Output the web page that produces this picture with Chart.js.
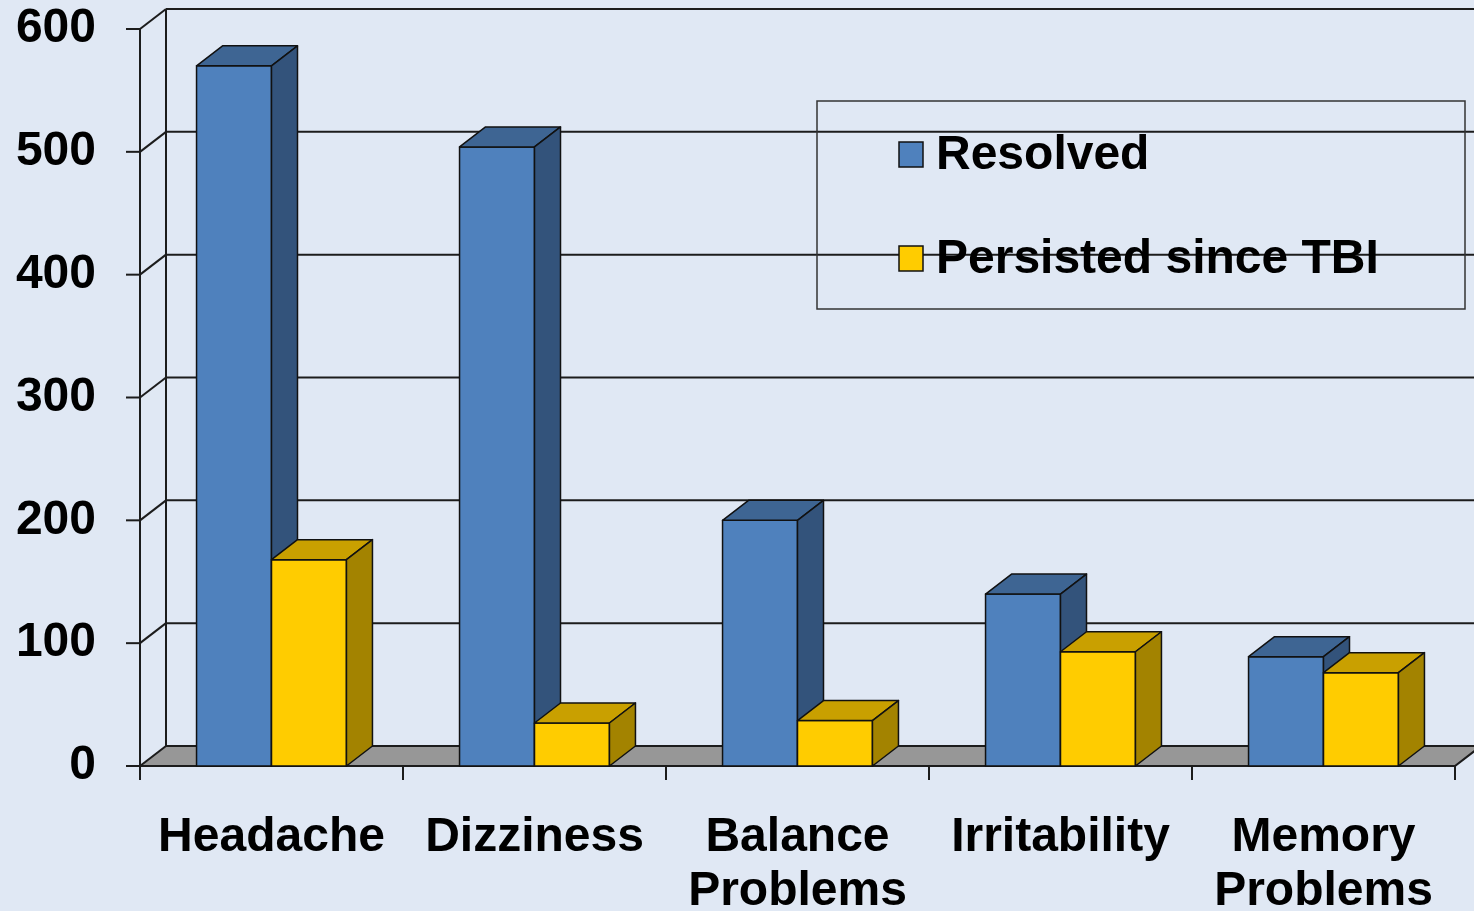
<!DOCTYPE html>
<html>
<head>
<meta charset="utf-8">
<script src="https://cdn.jsdelivr.net/npm/chart.js@4/dist/chart.umd.min.js"></script>
<style>
html,body{margin:0;padding:0;background:#E0E8F4;}
#wrap{width:1474px;height:911px;position:relative;}
</style>
</head>
<body>
<div id="wrap"><canvas id="c" width="1474" height="911"></canvas></div>
<script>
const categories = [["Headache"], ["Dizziness"], ["Balance", "Problems"], ["Irritability"], ["Memory", "Problems"]];
const seriesNames = ["Resolved", "Persisted since TBI"];
const resolved = [570, 504, 200, 140, 89];
const persisted = [168, 35, 37, 93, 76];
const yMin = 0, yMax = 600, yStep = 100;

const FONT = '"Liberation Sans", Arial, sans-serif';
const DX = 26, DY = -20;
const faceColors = [
  {front: '#4F81BD', top: '#3E6593', side: '#33537B'},
  {front: '#FFCC00', top: '#C9A000', side: '#A38300'}
];
const LINE = '#1C1C1C';

const threeD = {
  id: 'threeD',
  beforeDraw(chart) {
    const ctx = chart.ctx;
    ctx.save();
    ctx.fillStyle = '#E0E8F4';
    ctx.fillRect(0, 0, chart.width, chart.height);
    ctx.restore();
  },
  beforeDatasetsDraw(chart) {
    const ctx = chart.ctx;
    const xs = chart.scales.x, ys = chart.scales.y;
    const L = xs.left, R = xs.right;
    const y0 = ys.getPixelForValue(yMin);
    ctx.save();
    ctx.fillStyle = '#979797';
    ctx.beginPath();
    ctx.moveTo(L, y0); ctx.lineTo(R, y0); ctx.lineTo(R + DX, y0 + DY); ctx.lineTo(L + DX, y0 + DY);
    ctx.closePath(); ctx.fill();
    ctx.strokeStyle = '#555'; ctx.lineWidth = 1; ctx.stroke();
    ctx.strokeStyle = LINE; ctx.lineWidth = 2;
    for (let v = yMin; v <= yMax; v += yStep) {
      const py = ys.getPixelForValue(v);
      ctx.beginPath();
      ctx.moveTo(L + DX, py + DY); ctx.lineTo(R + DX + 40, py + DY);
      ctx.stroke();
      ctx.beginPath();
      ctx.moveTo(L, py); ctx.lineTo(L + DX, py + DY);
      ctx.stroke();
      ctx.beginPath();
      ctx.moveTo(L - 14, py); ctx.lineTo(L, py);
      ctx.stroke();
    }
    ctx.beginPath();
    ctx.moveTo(L + DX, ys.getPixelForValue(yMax) + DY); ctx.lineTo(L + DX, y0 + DY);
    ctx.stroke();
    ctx.beginPath();
    ctx.moveTo(L, ys.getPixelForValue(yMax)); ctx.lineTo(L, y0);
    ctx.stroke();
    ctx.beginPath();
    ctx.moveTo(L, y0); ctx.lineTo(R, y0); ctx.lineTo(R + DX, y0 + DY);
    ctx.stroke();
    const n = categories.length;
    for (let i = 0; i <= n; i++) {
      const px = L + (R - L) * i / n;
      ctx.beginPath();
      ctx.moveTo(px, y0); ctx.lineTo(px, y0 + 14);
      ctx.stroke();
    }
    const metas = chart.data.datasets.map((d, i) => chart.getDatasetMeta(i));
    ctx.lineWidth = 1.5;
    ctx.strokeStyle = '#111';
    ctx.lineJoin = 'round';
    for (let j = 0; j < n; j++) {
      metas.forEach((meta, di) => {
        const el = meta.data[j];
        const w = el.width;
        const x0 = el.x - w / 2, x1 = el.x + w / 2;
        const yt = el.y, yb = el.base;
        const c = faceColors[di];
        ctx.fillStyle = c.front;
        ctx.beginPath(); ctx.rect(x0, yt, w, yb - yt); ctx.fill(); ctx.stroke();
        ctx.fillStyle = c.top;
        ctx.beginPath();
        ctx.moveTo(x0, yt); ctx.lineTo(x1, yt); ctx.lineTo(x1 + DX, yt + DY); ctx.lineTo(x0 + DX, yt + DY);
        ctx.closePath(); ctx.fill(); ctx.stroke();
        ctx.fillStyle = c.side;
        ctx.beginPath();
        ctx.moveTo(x1, yt); ctx.lineTo(x1 + DX, yt + DY); ctx.lineTo(x1 + DX, yb + DY); ctx.lineTo(x1, yb);
        ctx.closePath(); ctx.fill(); ctx.stroke();
      });
    }
    ctx.restore();
    return false;
  },
  afterDraw(chart) {
    const ctx = chart.ctx;
    ctx.save();
    ctx.strokeStyle = '#333'; ctx.lineWidth = 1.5;
    ctx.strokeRect(817, 101, 648, 208);
    const rows = [155, 259];
    ctx.font = 'bold 48px ' + FONT;
    ctx.textBaseline = 'middle';
    ctx.textAlign = 'left';
    chart.data.datasets.forEach((d, i) => {
      const cy = rows[i];
      ctx.fillStyle = faceColors[i].front;
      ctx.fillRect(899, cy - 13, 24, 25);
      ctx.strokeStyle = '#111'; ctx.lineWidth = 1.5;
      ctx.strokeRect(899, cy - 13, 24, 25);
      ctx.fillStyle = '#000';
      ctx.fillText(d.label, 936, cy + 1);
    });
    ctx.restore();
  }
};

new Chart(document.getElementById('c'), {
  type: 'bar',
  data: {
    labels: categories,
    datasets: [
      {label: seriesNames[0], data: resolved, backgroundColor: faceColors[0].front},
      {label: seriesNames[1], data: persisted, backgroundColor: faceColors[1].front}
    ]
  },
  options: {
    responsive: false,
    animation: false,
    events: [],
    layout: {padding: {left: 0, right: 19, top: 29, bottom: 0}},
    datasets: {bar: {categoryPercentage: 0.57, barPercentage: 1.0}},
    plugins: {legend: {display: false}, tooltip: {enabled: false}},
    scales: {
      x: {
        grid: {display: false, drawTicks: false},
        border: {display: false},
        ticks: {
          color: '#000', autoSkip: false, maxRotation: 0, minRotation: 0, padding: 45,
          font: {family: FONT, size: 48, weight: 'bold', lineHeight: 1.125}
        },
        afterFit(s) { s.height = 145; s.paddingLeft = 0; s.paddingRight = 0; }
      },
      y: {
        min: yMin, max: yMax,
        grid: {display: false, drawTicks: false},
        border: {display: false},
        ticks: {
          stepSize: yStep, color: '#000', padding: 44,
          font: {family: FONT, size: 48, weight: 'bold'}
        },
        afterFit(s) { s.width = 140; s.paddingTop = 0; s.paddingBottom = 0; }
      }
    }
  },
  plugins: [threeD]
});
</script>
</body>
</html>
